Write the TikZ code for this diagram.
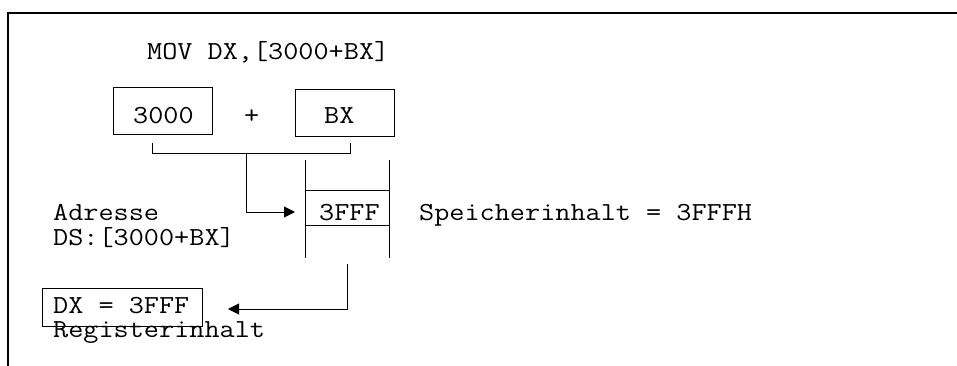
\documentclass[tikz,border=0pt]{standalone}
\usepackage{fontspec}
\setmonofont{Latin Modern Mono}[FakeStretch=1.13]
\usetikzlibrary{arrows.meta}
\tikzset{
  txt/.style={anchor=base west, inner sep=0pt, font=\fontsize{26pt}{30pt}\ttfamily},
  boxshape/.style={draw, line width=1pt, inner sep=0pt, rectangle},
  conn/.style={line width=1pt},
  arr/.style={line width=1pt, -{Triangle[length=11pt,width=11pt]}},
}
\begin{document}
\begin{tikzpicture}[x=1pt,y=-1pt]
\useasboundingbox (0,0) rectangle (957,366);
% frame
\draw[line width=2pt] (8,366) -- (8,13) -- (957,13);
% title
\node[txt] (title) at (147,60) {MOV DX,[3000+BX]};
% operand boxes
\node[boxshape, minimum width=99pt, minimum height=47pt] (b3000) at (162.5,111.5) {};
\node[txt] (t3000) at (133,124) {3000};
\node[txt] (plus) at (244,124) {+};
\node[boxshape, minimum width=99pt, minimum height=47pt] (bbx) at (344.5,113.5) {};
\node[txt] (tbx) at (324,124) {BX};
% bracket
\coordinate (bl) at (152,143);
\coordinate (br) at (350,143);
\coordinate (bm) at (246,154);
\draw[conn] (bl) -- (152,154) -- (350,154) -- (br);
% memory column
\coordinate (mtl) at (305,160);
\coordinate (mbl) at (305,258);
\coordinate (mtr) at (389,160);
\coordinate (mbr) at (389,258);
\draw[conn] (mtl) -- (mbl);
\draw[conn] (mtr) -- (mbr);
\node[boxshape, minimum width=84pt, minimum height=35pt] (cell) at (347,207.5) {};
\node[txt] (tcell) at (319,220) {3FFF};
\node[txt] (speicher) at (419,220) {Speicherinhalt = 3FFFH};
% address labels
\node[txt] (adr) at (53,220) {Adresse};
\node[txt] (ds) at (53,245) {DS:[3000+BX]};
% arrow bracket -> cell
\coordinate (a1end) at (295,212);
\draw[arr] (bm) |- (a1end);
% register box
\node[boxshape, minimum width=160pt, minimum height=38pt] (reg) at (122,307) {};
\node[txt] (treg) at (53,313) {DX = 3FFF};
\node[txt] (reginh) at (53,337) {Registerinhalt};
% arrow cell -> register
\coordinate (a2start) at (347,264);
\coordinate (a2end) at (228,309);
\draw[arr] (a2start) |- (a2end);
\end{tikzpicture}
\end{document}
